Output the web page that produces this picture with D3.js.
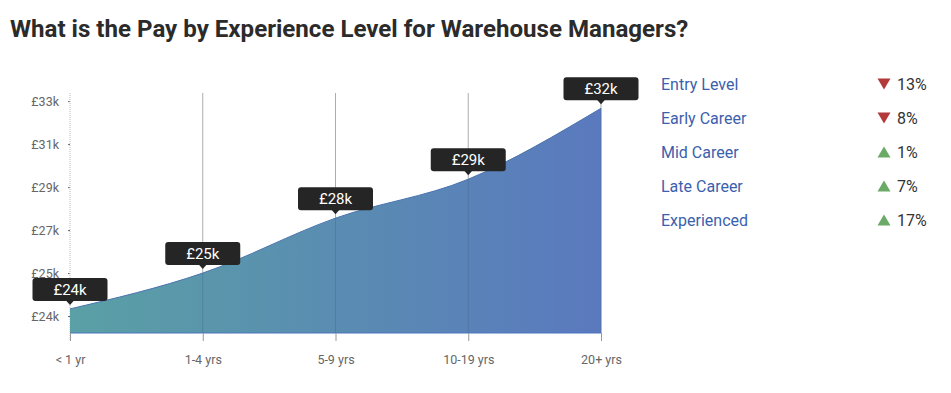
<!DOCTYPE html>
<html><head><meta charset="utf-8">
<script src="https://cdn.jsdelivr.net/npm/d3@7/dist/d3.min.js"></script>
<style>
body{margin:0;background:#fff;font-family:Roboto, "Noto Sans", sans-serif;}
</style></head><body>
<svg id="c" width="951" height="393"></svg>
<script>
const categories = ["< 1 yr", "1-4 yrs", "5-9 yrs", "10-19 yrs", "20+ yrs"];
const pay = [23900, 25400, 27700, 29330, 32300];
const yTicks = [23600, 25400, 27200, 29000, 30800, 32600];
const legendLabels = ["Entry Level", "Early Career", "Mid Career", "Late Career", "Experienced"];
const legendChange = [-13, -8, 1, 7, 17];
const title = "What is the Pay by Experience Level for Warehouse Managers?";

const svg = d3.select("#c");
svg.append("text").attr("x", 10).attr("y", 37).text(title)
  .attr("font-size", 24.1).attr("font-weight", 700).attr("fill", "#2b2b2b")
  .attr("font-family", "Roboto, sans-serif");

const x = d3.scalePoint().domain(categories).range([70, 601]);
const y = d3.scaleLinear().domain([22890, 32940]).range([333, 93]);
const fmt = v => "£" + Math.round(v / 1000) + "k";

// gradient
const defs = svg.append("defs");
const g = defs.append("linearGradient").attr("id", "gr").attr("x1", "0").attr("x2", "1").attr("y1", "0").attr("y2", "0");
g.append("stop").attr("offset", "0%").attr("stop-color", "#5aa0a5");
g.append("stop").attr("offset", "100%").attr("stop-color", "#5a79be");

// y axis
const yAxis = svg.append("g").attr("transform", "translate(70,0)")
  .call(d3.axisLeft(y).tickValues(yTicks).tickFormat(fmt).tickSize(8).tickPadding(3));
yAxis.select(".domain").remove();
yAxis.selectAll(".tick line").attr("stroke", "#666").attr("x2", -2);
yAxis.selectAll(".tick text").attr("fill", "#666").attr("font-size", 12.5).attr("font-family", "Roboto, sans-serif");
svg.append("line").attr("x1", 70).attr("x2", 70).attr("y1", 93).attr("y2", 340)
  .attr("stroke", "#bbb").attr("stroke-dasharray", "1,1");

// vertical gridlines
svg.append("g").selectAll("line").data(categories.slice(1)).join("line")
  .attr("x1", d => x(d)).attr("x2", d => x(d)).attr("y1", 93).attr("y2", 333)
  .attr("stroke", "#999").attr("stroke-width", 1).attr("opacity", 0.8);

// area
const area = d3.area().x((d, i) => x(categories[i])).y0(y.range()[0]).y1(d => y(d)).curve(d3.curveMonotoneX);
svg.append("path").datum(pay).attr("d", area).attr("fill", "url(#gr)");
const line = d3.line().x((d, i) => x(categories[i])).y(d => y(d)).curve(d3.curveMonotoneX);
svg.append("path").datum(pay).attr("d", line).attr("fill", "none").attr("stroke", "#4a74ad").attr("stroke-width", 1);
svg.append("line").attr("x1", 70).attr("x2", 601).attr("y1", 333).attr("y2", 333)
  .attr("stroke", "#4a74c0").attr("stroke-width", 1);
svg.append("g").selectAll("line").data(categories.slice(1)).join("line")
  .attr("x1", d => x(d)).attr("x2", d => x(d)).attr("y1", d => y(pay[categories.indexOf(d)])).attr("y2", 333)
  .attr("stroke", "#4a6f90").attr("stroke-width", 1).attr("opacity", 0.5);

// x axis
const xAxis = svg.append("g").attr("transform", "translate(0,333)")
  .call(d3.axisBottom(x).tickSize(8).tickPadding(14));
xAxis.select(".domain").remove();
xAxis.selectAll(".tick line").attr("stroke", "#999");
xAxis.selectAll(".tick text").attr("fill", "#666").attr("font-size", 12.5).attr("font-family", "Roboto, sans-serif");

// tooltips
const tips = svg.append("g").selectAll("g").data(pay).join("g")
  .attr("transform", (d, i) => `translate(${x(categories[i])},${y(d)})`);
tips.append("rect").attr("x", -37.5).attr("y", -31).attr("width", 75).attr("height", 23).attr("rx", 3)
  .attr("fill", "#252525");
tips.append("path").attr("d", "M-4,-8.5L4,-8.5L0,-4Z").attr("fill", "#252525");
tips.append("text").attr("y", -14).attr("text-anchor", "middle").attr("fill", "#fff")
  .attr("font-size", 15).attr("font-family", "Roboto, sans-serif").text(d => fmt(d));

// legend
const lg = svg.append("g").selectAll("g").data(legendLabels).join("g")
  .attr("transform", (d, i) => `translate(0,${90 + i * 34})`);
lg.append("text").attr("x", 661).attr("y", 0).text(d => d)
  .attr("fill", "#3c5fae").attr("font-size", 16).attr("font-family", "Roboto, sans-serif");
lg.append("path").attr("transform", "translate(884,-6)")
  .attr("d", (d, i) => legendChange[i] < 0 ? "M-6.5,-5.5L6.5,-5.5L0,5.5Z" : "M-6.5,5.5L6.5,5.5L0,-5.5Z")
  .attr("fill", (d, i) => legendChange[i] < 0 ? "#b23a3a" : "#6aa966");
lg.append("text").attr("x", 897).attr("y", 0).text((d, i) => Math.abs(legendChange[i]) + "%")
  .attr("fill", "#333").attr("font-size", 16).attr("font-family", "Roboto, sans-serif");
</script></body></html>
